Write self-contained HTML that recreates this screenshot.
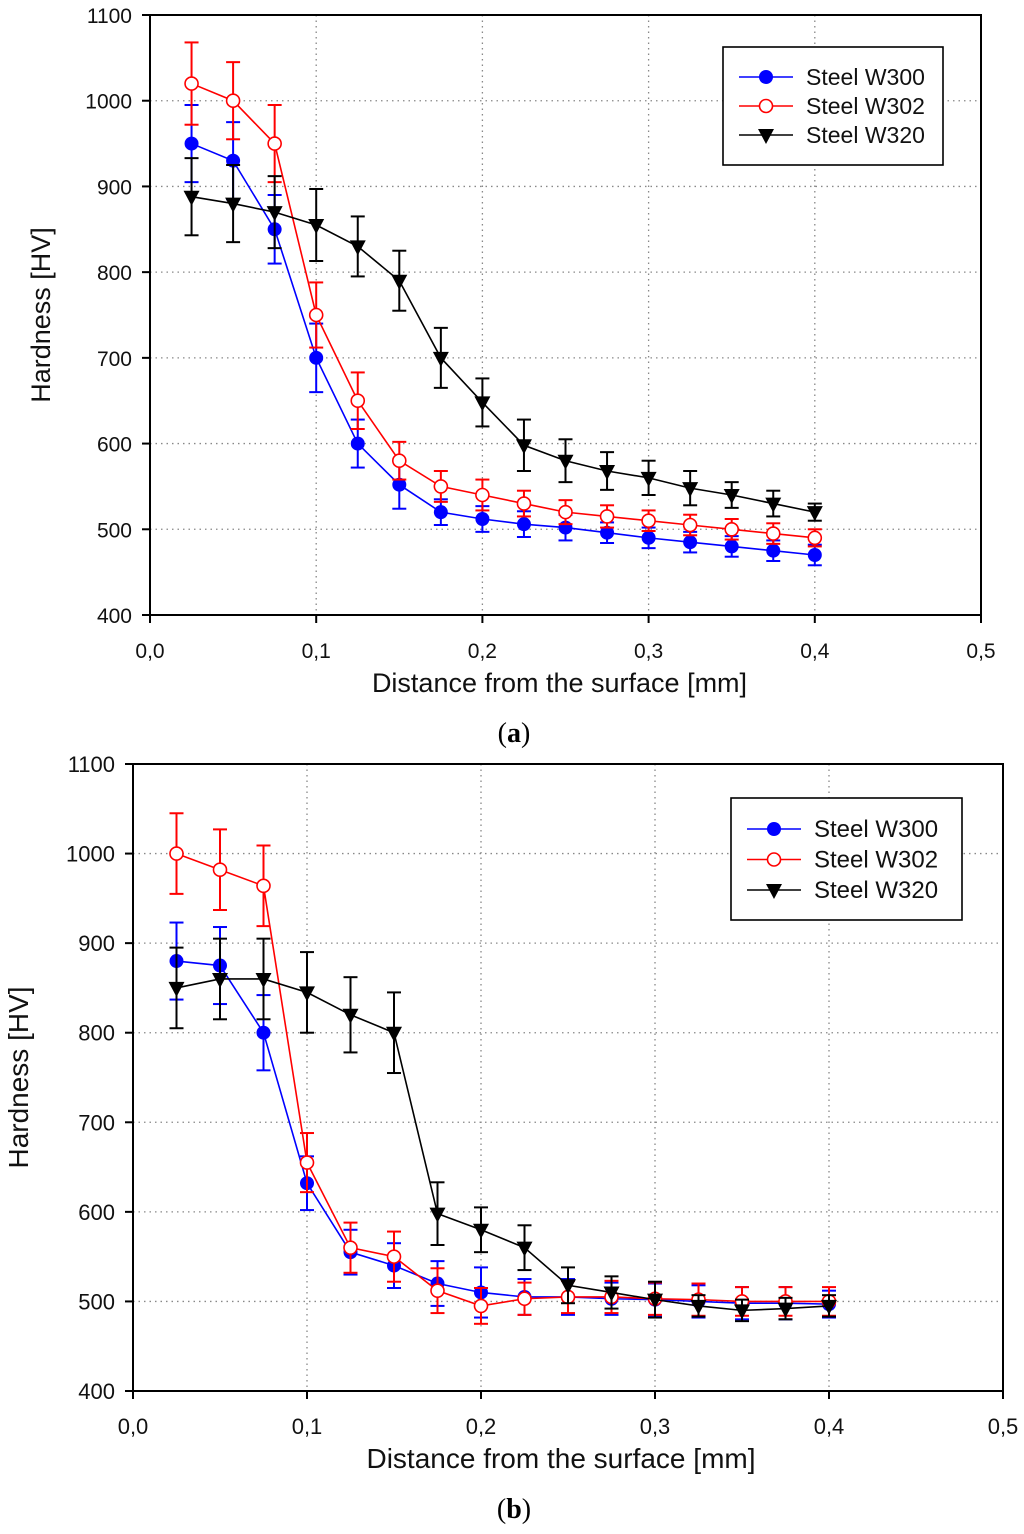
<!DOCTYPE html>
<html><head><meta charset="utf-8"><style>
body{margin:0;background:#fff;}
svg{display:block;font-family:"Liberation Sans",sans-serif;}
</style></head><body>
<svg id="svg" width="1024" height="1534" viewBox="0 0 1024 1534">
<text x="514" y="742" font-family="Liberation Serif" font-size="28" text-anchor="middle">(<tspan font-weight="bold">a</tspan>)</text>
<text x="514" y="1518" font-family="Liberation Serif" font-size="28" text-anchor="middle">(<tspan font-weight="bold">b</tspan>)</text>
</svg>
<script>
const xCats=[0.025,0.05,0.075,0.1,0.125,0.15,0.175,0.2,0.225,0.25,0.275,0.3,0.325,0.35,0.375,0.4];
const xTicks=[0,0.1,0.2,0.3,0.4,0.5];
const xTickLabels=["0,0","0,1","0,2","0,3","0,4","0,5"];
const yTicks=[400,500,600,700,800,900,1000,1100];
const seriesNames=["Steel W300","Steel W302","Steel W320"];
const aW300=[950,930,850,700,600,552,520,512,506,502,496,490,485,480,475,470];
const aW300Err=[45,45,40,40,28,28,15,15,15,15,12,12,12,12,12,12];
const aW302=[1020,1000,950,750,650,580,550,540,530,520,515,510,505,500,495,490];
const aW302Err=[48,45,45,38,33,22,18,18,15,14,13,12,12,12,12,10];
const aW320=[888,880,870,855,830,790,700,648,598,580,568,560,548,540,530,520];
const aW320Err=[45,45,42,42,35,35,35,28,30,25,22,20,20,15,15,10];
const bW300=[880,875,800,632,555,540,520,510,505,505,503,502,500,498,498,497];
const bW300Err=[43,43,42,30,25,25,25,28,20,20,18,18,18,18,18,15];
const bW302=[1000,982,964,655,560,550,512,495,503,505,505,503,502,500,500,500];
const bW302Err=[45,45,45,33,28,28,25,20,18,18,18,18,18,16,16,16];
const bW320=[850,860,860,845,820,800,598,580,560,518,510,502,495,490,492,495];
const bW320Err=[45,45,45,45,42,45,35,25,25,20,18,20,12,12,12,12];

const NS="http://www.w3.org/2000/svg";
const svg=document.getElementById('svg');
function mk(tag,attrs,parent){const e=document.createElementNS(NS,tag);for(const k in attrs)e.setAttribute(k,attrs[k]);(parent||svg).appendChild(e);return e;}

function chart(id,L,R,T,B,series,leg,fs,tf,yTitleX,lfs,xTitleDx){
  const g=mk('g',{});
  
  
  const sx=v=>L+(R-L)*v/0.5, sy=v=>B-(B-T)*(v-400)/700;
  xTicks.forEach((t,i)=>{
    if(i>0&&i<xTicks.length-1){const l=mk('line',{x1:sx(t),x2:sx(t),y1:T,y2:B,stroke:'#888','stroke-dasharray':'1.5,4','stroke-width':1.3},g);
    }
    mk('line',{x1:sx(t),x2:sx(t),y1:B,y2:B+8,stroke:'#000','stroke-width':2},g);
    const tx=mk('text',{x:sx(t),y:B+43,'font-size':fs,'text-anchor':'middle',fill:'#111'},g);tx.textContent=xTickLabels[i];
    
  });
  yTicks.forEach((t,i)=>{
    if(i>0&&i<yTicks.length-1){const l=mk('line',{x1:L,x2:R,y1:sy(t),y2:sy(t),stroke:'#888','stroke-dasharray':'1.5,4','stroke-width':1.3},g);
    }
    mk('line',{x1:L-8,x2:L,y1:sy(t),y2:sy(t),stroke:'#000','stroke-width':2},g);
    const tx=mk('text',{x:L-18,y:sy(t)+8,'font-size':fs,'text-anchor':'end',fill:'#111'},g);tx.textContent=t;
    
  });
  const fr=mk('rect',{x:L,y:T,width:R-L,height:B-T,fill:'none',stroke:'#000','stroke-width':2},g);
  
  const xt=mk('text',{x:(L+R)/2+xTitleDx,y:B+77,'font-size':tf,'text-anchor':'middle',fill:'#111'},g);xt.textContent='Distance from the surface [mm]';
  
  const yt=mk('text',{x:yTitleX,y:(T+B)/2,'font-size':tf,'text-anchor':'middle',fill:'#111',transform:`rotate(-90 ${yTitleX} ${(T+B)/2})`},g);yt.textContent='Hardness [HV]';
  
  const colors=['#0000ff','#ff0000','#000'];
  function marker(k,x,y,par){
    if(k===0)return mk('circle',{cx:x,cy:y,r:7,fill:'#0000ff'},par);
    if(k===1)return mk('circle',{cx:x,cy:y,r:6.5,fill:'#fff',stroke:'#ff0000','stroke-width':1.6},par);
    return mk('path',{d:`M${x-8},${y-6}L${x+8},${y-6}L${x},${y+9}Z`,fill:'#000'},par);
  }
  series.forEach((s,k)=>{
    const sg=mk('g',{},g);
    
    
    const c=colors[k];
    s.v.forEach((v,i)=>{
      const x=sx(xCats[i]),e=s.e[i];
      mk('line',{x1:x,x2:x,y1:sy(v+e),y2:sy(v-e),stroke:c,'stroke-width':2},sg);
      mk('line',{x1:x-7,x2:x+7,y1:sy(v+e),y2:sy(v+e),stroke:c,'stroke-width':2},sg);
      mk('line',{x1:x-7,x2:x+7,y1:sy(v-e),y2:sy(v-e),stroke:c,'stroke-width':2},sg);
    });
    const ln=mk('polyline',{points:s.v.map((v,i)=>sx(xCats[i])+','+sy(v)).join(' '),fill:'none',stroke:c,'stroke-width':1.6},sg);
    
    s.v.forEach((v,i)=>{const m=marker(k,sx(xCats[i]),sy(v),sg);
      });
  });
  const lg=mk('g',{},g);
  
  mk('rect',{x:leg.x,y:leg.y,width:leg.w,height:leg.h,fill:'#fff',stroke:'#000','stroke-width':1.6},lg);
  seriesNames.forEach((n,k)=>{
    const yy=leg.y0+leg.dy*k;
    const eg=mk('g',{},lg);
    
    mk('line',{x1:leg.x+16,x2:leg.x+70,y1:yy,y2:yy,stroke:colors[k],'stroke-width':1.6},eg);
    marker(k,leg.x+43,yy,eg);
    const t=mk('text',{x:leg.x+83,y:yy+8,'font-size':lfs,fill:'#111'},eg);t.textContent=n;
  });
}
chart('a',150,981,15,615,[{v:aW300,e:aW300Err},{v:aW302,e:aW302Err},{v:aW320,e:aW320Err}],{x:723,y:47,w:220,h:118,y0:77,dy:29},21,27,50,23,-6);
chart('b',133,1003,764,1391,[{v:bW300,e:bW300Err},{v:bW302,e:bW302Err},{v:bW320,e:bW320Err}],{x:731,y:798,w:231,h:122,y0:829,dy:30.5},22,28,28,24,-7);
</script>
</body></html>
